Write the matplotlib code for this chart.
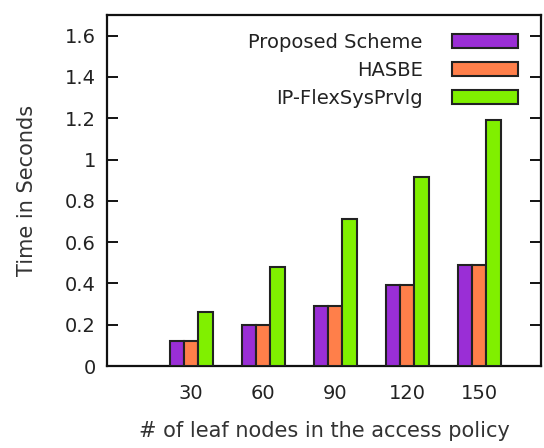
import numpy as np
import matplotlib
matplotlib.use("Agg")
from matplotlib import pyplot as plt

# data
leaf_nodes = ["30", "60", "90", "120", "150"]
proposed = [0.12, 0.20, 0.29, 0.39, 0.49]
hasbe = [0.12, 0.20, 0.29, 0.39, 0.49]
ip_flex = [0.26, 0.48, 0.71, 0.915, 1.19]

series_names = ["Proposed Scheme", "HASBE", "IP-FlexSysPrvlg"]
colors = ["#9a2ed6", "#ff7f4a", "#80f000"]

plt.rcParams['font.family'] = ['DejaVu Sans']
plt.rcParams['font.size'] = 14

fig = plt.figure(figsize=(5.44, 4.48), dpi=100)
ax = fig.add_axes([107 / 544, 1 - 366 / 448, (541 - 107) / 544, (366 - 15) / 448])

x = np.arange(len(leaf_nodes))
w = 0.2
for k, (vals, name, c) in enumerate(zip([proposed, hasbe, ip_flex], series_names, colors)):
    ax.bar(x + (k - 1) * w, vals, width=w, color=c, edgecolor="#222222",
           linewidth=1.5, label=name, zorder=3)

ax.set_xlim(-1.17, 4.86)
ax.set_ylim(0, 1.7)
ax.set_yticks(np.arange(0, 1.61, 0.2))
ax.set_yticklabels(["0", "0.2", "0.4", "0.6", "0.8", "1", "1.2", "1.4", "1.6"], color="#222222")
ax.set_xticks(x)
ax.set_xticklabels(leaf_nodes, color="#222222")
ax.tick_params(axis="y", direction="in", length=8, width=1.3, right=True, pad=8, labelsize=14)
ax.tick_params(axis="x", length=0, pad=13, labelsize=14)
for s in ax.spines.values():
    s.set_linewidth(1.6)
    s.set_color("#111111")

ax.set_ylabel("Time in Seconds", color="#333333", labelpad=20, fontsize=15)
ax.set_xlabel("# of leaf nodes in the access policy", color="#333333", labelpad=13, fontsize=15)

leg = ax.legend(loc="upper right", bbox_to_anchor=(0.947, 0.95), frameon=False,
                markerfirst=False, handlelength=3.4, handleheight=0.72, labelspacing=0.47,
                borderaxespad=0, borderpad=0, handletextpad=1.5, fontsize=14)
for t in leg.get_texts():
    t.set_color("#222222")

fig.savefig("out.png", dpi=100)
